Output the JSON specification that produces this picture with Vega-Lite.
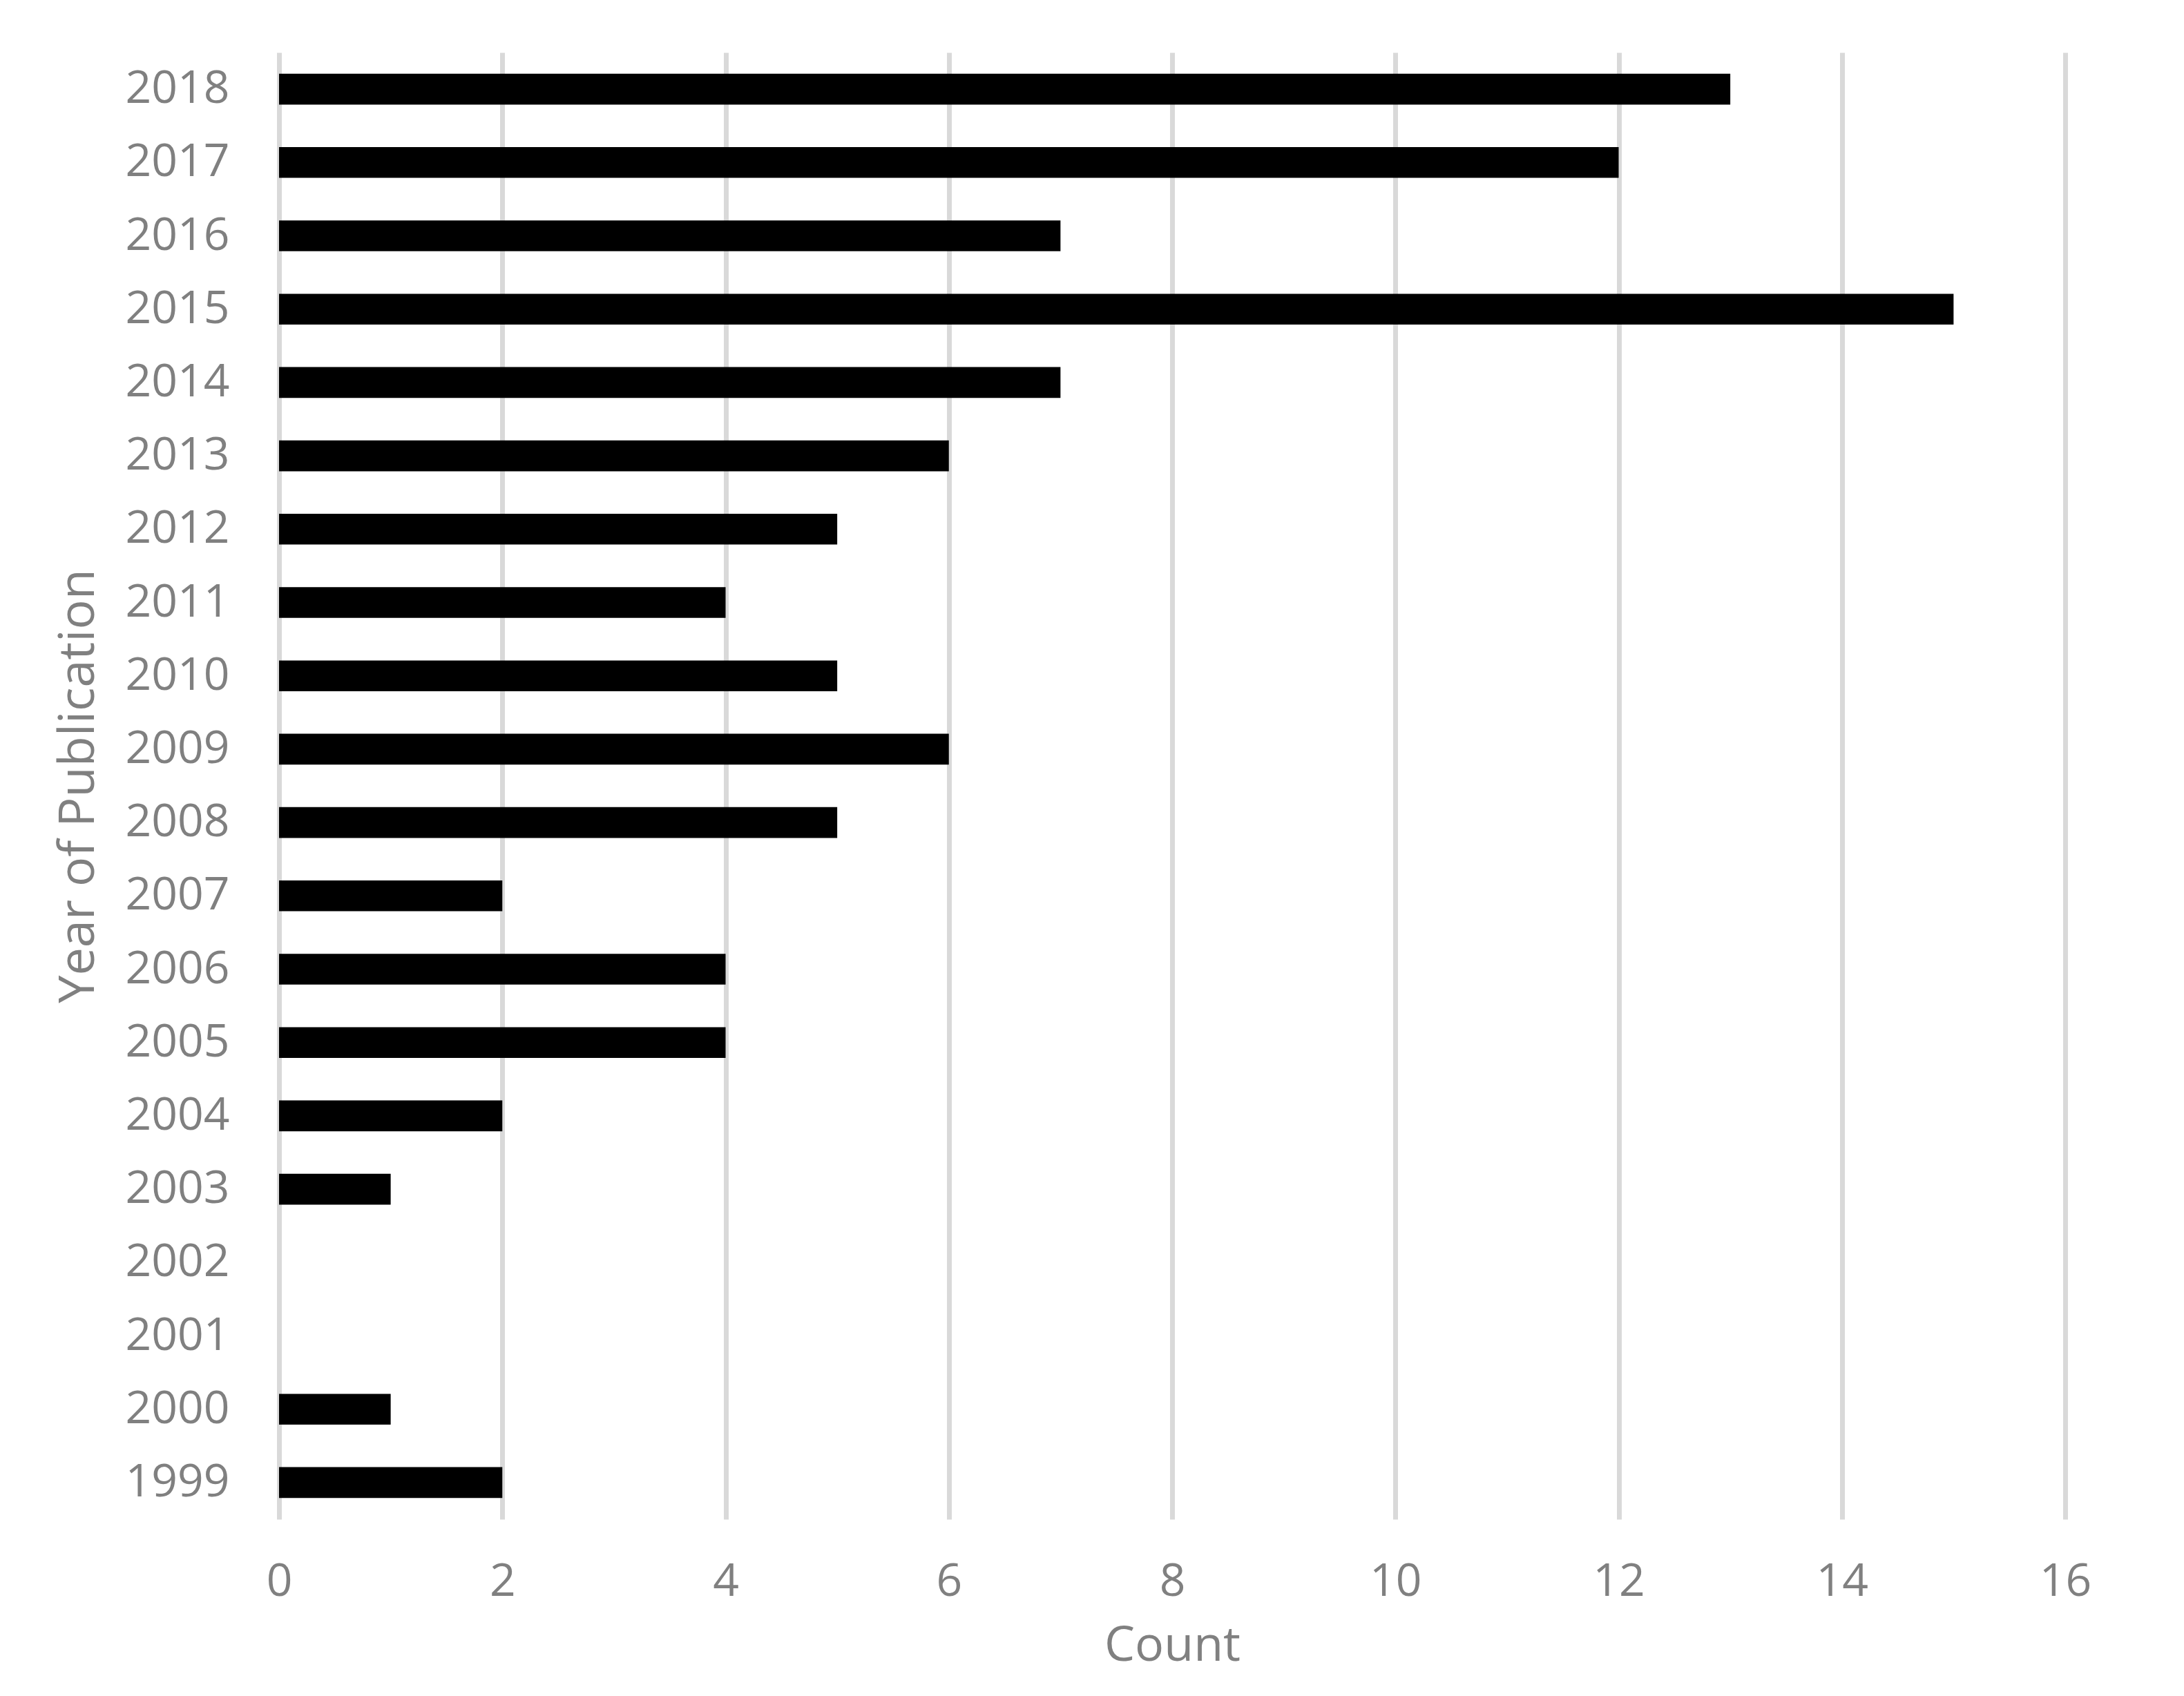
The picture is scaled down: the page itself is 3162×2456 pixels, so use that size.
{
  "$schema": "https://vega.github.io/schema/vega-lite/v6.json",
  "width": 2586,
  "height": 2124,
  "autosize": "none",
  "padding": {"left": 404, "top": 76, "right": 172, "bottom": 256},
  "background": "white",
  "data": {
    "values": [
      {"year": "2018", "count": 13},
      {"year": "2017", "count": 12},
      {"year": "2016", "count": 7},
      {"year": "2015", "count": 15},
      {"year": "2014", "count": 7},
      {"year": "2013", "count": 6},
      {"year": "2012", "count": 5},
      {"year": "2011", "count": 4},
      {"year": "2010", "count": 5},
      {"year": "2009", "count": 6},
      {"year": "2008", "count": 5},
      {"year": "2007", "count": 2},
      {"year": "2006", "count": 4},
      {"year": "2005", "count": 4},
      {"year": "2004", "count": 2},
      {"year": "2003", "count": 1},
      {"year": "2002", "count": 0},
      {"year": "2001", "count": 0},
      {"year": "2000", "count": 1},
      {"year": "1999", "count": 2}
    ]
  },
  "mark": {"type": "bar", "color": "black"},
  "encoding": {
    "y": {
      "field": "year",
      "type": "ordinal",
      "sort": "descending",
      "scale": {"paddingInner": 0.58, "paddingOuter": 0.29},
      "axis": {
        "title": "Year of Publication",
        "grid": false,
        "ticks": false,
        "domain": false,
        "labelPadding": 72,
        "labelFontSize": 66,
        "labelColor": "#808080",
        "labelFont": "Open Sans",
        "titleFont": "Open Sans",
        "titleFontSize": 72,
        "titleFontWeight": "normal",
        "titleColor": "#808080",
        "titlePadding": 54
      }
    },
    "x": {
      "field": "count",
      "type": "quantitative",
      "scale": {"domain": [0, 16], "nice": false},
      "axis": {
        "title": "Count",
        "values": [0, 2, 4, 6, 8, 10, 12, 14, 16],
        "grid": true,
        "gridColor": "#d9d9d9",
        "gridWidth": 7,
        "ticks": false,
        "tickSize": 0,
        "domain": false,
        "labelFlush": false,
        "labelOverlap": false,
        "labelPadding": 58,
        "labelFontSize": 66,
        "labelColor": "#808080",
        "labelFont": "Open Sans",
        "titleFont": "Open Sans",
        "titleFontSize": 70,
        "titleFontWeight": "normal",
        "titleColor": "#808080",
        "titlePadding": 26
      }
    }
  },
  "config": {"view": {"stroke": null}}
}
